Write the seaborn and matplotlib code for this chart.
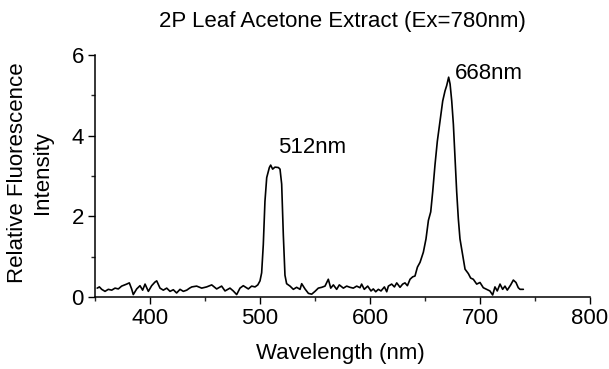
import matplotlib
matplotlib.use("Agg")
import matplotlib.pyplot as plt
from matplotlib.ticker import MultipleLocator
import seaborn as sns
import pandas as pd

# Two-photon emission spectrum of the leaf acetone extract
wavelength_nm = [
    352.0, 354.0, 356.1, 359.1, 362.1, 365.2, 368.2, 371.2, 374.2, 378.8,
    381.2, 383.3, 384.8, 387.9, 390.9, 393.3, 395.5, 398.5, 401.5, 404.5,
    406.1, 409.1, 412.1, 415.2, 418.2, 421.2, 424.2, 427.3, 430.3, 433.4,
    436.0, 438.0, 442.4, 447.0, 451.5, 456.1, 460.6, 465.1, 468.2, 472.7,
    475.7, 478.8, 481.8, 484.8, 489.4, 492.4, 495.5, 498.0, 500.0, 501.5,
    503.0, 504.5, 506.1, 508.5, 509.7, 511.5, 513.6, 516.7, 518.2, 519.7,
    521.2, 522.7, 524.2, 527.3, 530.3, 533.3, 536.4, 537.9, 540.9, 544.0,
    547.0, 550.0, 553.0, 556.1, 559.1, 562.1, 564.3, 566.7, 569.7, 572.1,
    575.8, 578.8, 581.8, 584.8, 587.9, 590.9, 592.4, 594.8, 597.9, 600.9,
    603.0, 605.2, 607.6, 610.0, 613.1, 615.2, 616.7, 619.7, 622.2, 624.3,
    627.3, 629.7, 631.8, 634.0, 636.4, 638.8, 640.9, 643.1, 645.5, 648.5,
    650.9, 653.1, 655.2, 657.0, 659.1, 661.2, 663.7, 666.1, 668.2, 669.7,
    671.5, 672.8, 674.3, 675.8, 677.3, 678.8, 680.3, 681.8, 684.3, 686.4,
    689.4, 691.5, 693.9, 697.0, 700.0, 703.0, 706.0, 709.0, 711.5, 713.6,
    715.7, 718.2, 720.6, 722.7, 724.8, 727.9, 730.3, 732.7, 734.8, 736.4,
    739.4,
]
intensity = [
    0.22, 0.25, 0.19, 0.14, 0.19, 0.17, 0.22, 0.20, 0.27, 0.32,
    0.35, 0.20, 0.06, 0.20, 0.28, 0.17, 0.32, 0.14, 0.28, 0.37,
    0.40, 0.22, 0.17, 0.22, 0.14, 0.18, 0.10, 0.19, 0.14, 0.17,
    0.22, 0.25, 0.27, 0.22, 0.25, 0.30, 0.20, 0.27, 0.15, 0.22,
    0.15, 0.06, 0.22, 0.28, 0.20, 0.27, 0.25, 0.30, 0.40, 0.60,
    1.30, 2.37, 2.96, 3.21, 3.27, 3.17, 3.22, 3.21, 3.17, 2.80,
    1.54, 0.54, 0.33, 0.27, 0.19, 0.24, 0.19, 0.33, 0.20, 0.09,
    0.07, 0.14, 0.22, 0.24, 0.27, 0.44, 0.22, 0.30, 0.19, 0.30,
    0.22, 0.27, 0.24, 0.22, 0.27, 0.23, 0.32, 0.19, 0.27, 0.15,
    0.20, 0.13, 0.19, 0.15, 0.25, 0.13, 0.27, 0.32, 0.25, 0.35,
    0.24, 0.32, 0.35, 0.28, 0.44, 0.50, 0.52, 0.74, 0.86, 1.11,
    1.44, 1.90, 2.11, 2.61, 3.28, 3.86, 4.36, 4.86, 5.11, 5.24,
    5.45, 5.28, 4.86, 4.28, 3.44, 2.61, 1.94, 1.44, 1.03, 0.69,
    0.58, 0.47, 0.44, 0.32, 0.36, 0.23, 0.19, 0.15, 0.05, 0.25,
    0.15, 0.32, 0.19, 0.27, 0.17, 0.30, 0.42, 0.36, 0.23, 0.19,
    0.19,
]

peak_labels = ["512nm", "668nm"]
peak_label_x = [516, 677]
peak_label_y = [3.7, 5.53]

x_ticks = [400, 500, 600, 700, 800]
y_ticks = [0, 2, 4, 6]

sns.set_style("ticks")
plt.rcParams["font.family"] = ["Liberation Sans", "DejaVu Sans"]
plt.rcParams["text.color"] = "black"
FS = 16

df = pd.DataFrame({"Wavelength (nm)": wavelength_nm, "Intensity": intensity})

fig = plt.figure(figsize=(6.09, 3.69), dpi=100)
ax = fig.add_axes([95 / 609, 1 - 297 / 369, (590 - 95) / 609, (297 - 55) / 369])

sns.lineplot(data=df, x="Wavelength (nm)", y="Intensity", ax=ax,
             color="black", linewidth=1.2)

ax.set_xlim(350, 800)
ax.set_ylim(0, 6)
ax.set_xticks(x_ticks)
ax.set_yticks(y_ticks)
ax.xaxis.set_minor_locator(MultipleLocator(50))
ax.yaxis.set_minor_locator(MultipleLocator(1))
ax.tick_params(axis="both", which="major", direction="out", length=5,
               width=1, labelsize=FS, colors="black", pad=3)
ax.tick_params(axis="both", which="minor", direction="out", length=3, width=1)
sns.despine(ax=ax)
for side in ("left", "bottom"):
    ax.spines[side].set_linewidth(1.1)
    ax.spines[side].set_color("black")

ax.set_xlabel("")
ax.set_ylabel("")
fig.text(340 / 609, 1 - 354 / 369, "Wavelength (nm)", ha="center",
         va="center", fontsize=FS)
fig.text(30 / 609, 1 - 173 / 369, "Relative Fluorescence\nIntensity",
         rotation=90, ha="center", va="center", multialignment="center",
         fontsize=FS, linespacing=1.25)
fig.text(342 / 609, 1 - 21 / 369, "2P Leaf Acetone Extract (Ex=780nm)",
         ha="center", va="center", fontsize=FS)

for label, lx, ly in zip(peak_labels, peak_label_x, peak_label_y):
    ax.text(lx, ly, label, ha="left", va="center", fontsize=FS)

fig.savefig("out.png", dpi=100)
